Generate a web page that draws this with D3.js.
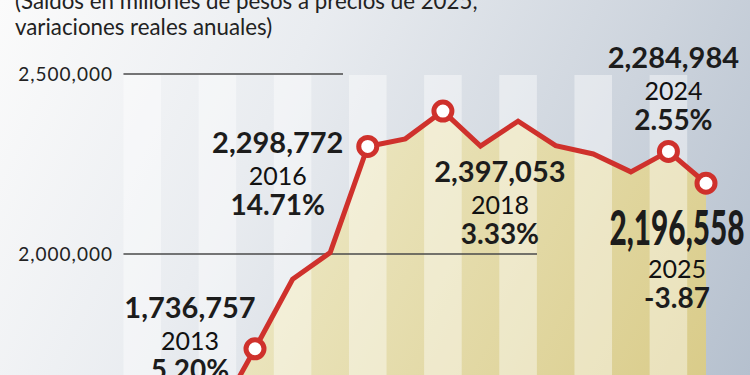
<!DOCTYPE html>
<html>
<head>
<meta charset="utf-8">
<script src="https://cdn.jsdelivr.net/npm/d3@7"></script>
<style>
  html, body { margin: 0; padding: 0; background: #fff; }
  svg { display: block; font-family: Lato, "Open Sans", sans-serif; }
</style>
</head>
<body>
<svg id="chart" width="750" height="375"></svg>
<script>
// datos
var years  = [2012, 2013, 2014, 2015, 2016, 2017, 2018, 2019, 2020, 2021, 2022, 2023, 2024, 2025]
var saldos = [1550000, 1736757, 1930000, 2003985, 2298772, 2319803, 2397053, 2300000, 2369000, 2301000, 2277800, 2228161, 2284984, 2196558]
var marcados    = [2013, 2016, 2018, 2024, 2025]
var variaciones = ["5.20%", "14.71%", "3.33%", "2.55%", "-3.87"]
var franjas = [2010, 2011, 2012, 2013, 2014, 2015, 2016, 2017, 2018, 2019, 2020, 2021, 2022, 2023, 2024, 2025]
var ticks   = [2000000, 2500000]
var titulo  = ["(Saldos en millones de pesos a precios de 2025,", "variaciones reales anuales)"]

var W = 750, H = 375
var svg = d3.select("#chart")
var fmt = d3.format(",")

var x = d3.scaleLinear().domain([2013, 2025]).range([255, 706])
var y = d3.scaleLinear().domain([2000000, 2500000]).range([254, 74])
var step = x(2014) - x(2013)

var data = years.map(function (yr, i) { return { year: yr, v: saldos[i] } })

// degradados
var defs = svg.append("defs")
var bg = defs.append("linearGradient")
   .attr("id", "bg")
   .attr("gradientUnits", "userSpaceOnUse")
   .attr("x1", 0).attr("y1", 0).attr("x2", 750).attr("y2", 375)
bg.append("stop").attr("offset", 0).attr("stop-color", "#fbfbfb")
bg.append("stop").attr("offset", 0.35).attr("stop-color", "#e9ecf0")
bg.append("stop").attr("offset", 0.72).attr("stop-color", "#cdd4dd")
bg.append("stop").attr("offset", 1).attr("stop-color", "#b5c0ce")

var ag = defs.append("linearGradient")
   .attr("id", "areaGrad")
   .attr("gradientUnits", "userSpaceOnUse")
   .attr("x1", 250).attr("y1", 110).attr("x2", 720).attr("y2", 375)
ag.append("stop").attr("offset", 0).attr("stop-color", "#efebcb")
ag.append("stop").attr("offset", 1).attr("stop-color", "#d9cb88")

svg.append("rect")
   .attr("width", W).attr("height", H)
   .attr("fill", "url(#bg)")

// área bajo la línea
svg.append("path")
   .datum(data)
   .attr("fill", "url(#areaGrad)")
   .attr("d", d3.area()
      .x(function (d) { return x(d.year) })
      .y0(H)
      .y1(function (d) { return y(d.v) }))

// franjas claras (años pares)
svg.append("g")
   .selectAll("rect")
   .data(franjas.filter(function (f) { return f % 2 === 0 }))
   .join("rect")
   .attr("x", function (d) { return x(d) - step / 2 })
   .attr("y", y(2500000) + 1)
   .attr("width", step)
   .attr("height", H - y(2500000))
   .attr("fill", "#fff")
   .attr("fill-opacity", 0.42)

// líneas de referencia
var gridEnd = { 2500000: 343, 2000000: 537 }
var grid = svg.append("g")
grid.selectAll("line")
   .data(ticks)
   .join("line")
   .attr("x1", x(2010) - step / 2)
   .attr("x2", function (d) { return gridEnd[d] })
   .attr("y1", function (d) { return y(d) })
   .attr("y2", function (d) { return y(d) })
   .attr("stroke", "#4a4a4a")
   .attr("stroke-width", 1.3)
grid.selectAll("text")
   .data(ticks)
   .join("text")
   .attr("x", 113)
   .attr("y", function (d) { return y(d) + 7 })
   .attr("text-anchor", "end")
   .attr("font-size", 19)
   .attr("letter-spacing", 1)
   .attr("fill", "#222")
   .text(function (d) { return fmt(d) })

// título
svg.append("g")
   .selectAll("text")
   .data(titulo)
   .join("text")
   .attr("x", 15)
   .attr("y", function (d, i) { return 9 + i * 26 })
   .attr("font-size", 22.3)
   .attr("fill", "#222")
   .text(function (d) { return d })

// línea roja
svg.append("path")
   .datum(data)
   .attr("fill", "none")
   .attr("stroke", "#cf312c")
   .attr("stroke-width", 5)
   .attr("stroke-linejoin", "miter")
   .attr("d", d3.line()
      .x(function (d) { return x(d.year) })
      .y(function (d) { return y(d.v) }))

var marks = data.filter(function (d) { return marcados.indexOf(d.year) >= 0 })

svg.append("g")
   .selectAll("circle")
   .data(marks)
   .join("circle")
   .attr("cx", function (d) { return x(d.year) })
   .attr("cy", function (d) { return y(d.v) })
   .attr("r", 9)
   .attr("fill", "#fff")
   .attr("stroke", "#cf312c")
   .attr("stroke-width", 5)

// etiquetas: desplazamiento respecto al punto
var offs = {
   2013: [-65, -31],
   2016: [-90, 7],
   2018: [57, 71],
   2024: [5, -83],
   2025: [-29, 62]
}

marks.forEach(function (d) {
   var k = marcados.indexOf(d.year)
   var o = offs[d.year]
   var cx = x(d.year) + o[0]
   var by = y(d.v) + o[1]
   var g = svg.append("g")
      .attr("text-anchor", "middle")
      .attr("fill", "#1c1c1c")

   var big = d.year === 2025
   var t = g.append("text")
      .attr("x", cx)
      .attr("y", by)
      .attr("font-size", big ? 48 : 29)
      .attr("font-weight", big ? 900 : 700)
      .text(fmt(d.v))
   if (big) {
      t.attr("textLength", 135).attr("lengthAdjust", "spacingAndGlyphs")
   }

   g.append("text")
      .attr("x", cx)
      .attr("y", by + (big ? 33 : 32))
      .attr("font-size", 25)
      .attr("font-weight", 400)
      .attr("fill", "#111")
      .text(d.year)

   g.append("text")
      .attr("x", cx)
      .attr("y", by + (big ? 63 : 62))
      .attr("font-size", 28)
      .attr("font-weight", 700)
      .text(variaciones[k])
})
</script>
</body>
</html>
